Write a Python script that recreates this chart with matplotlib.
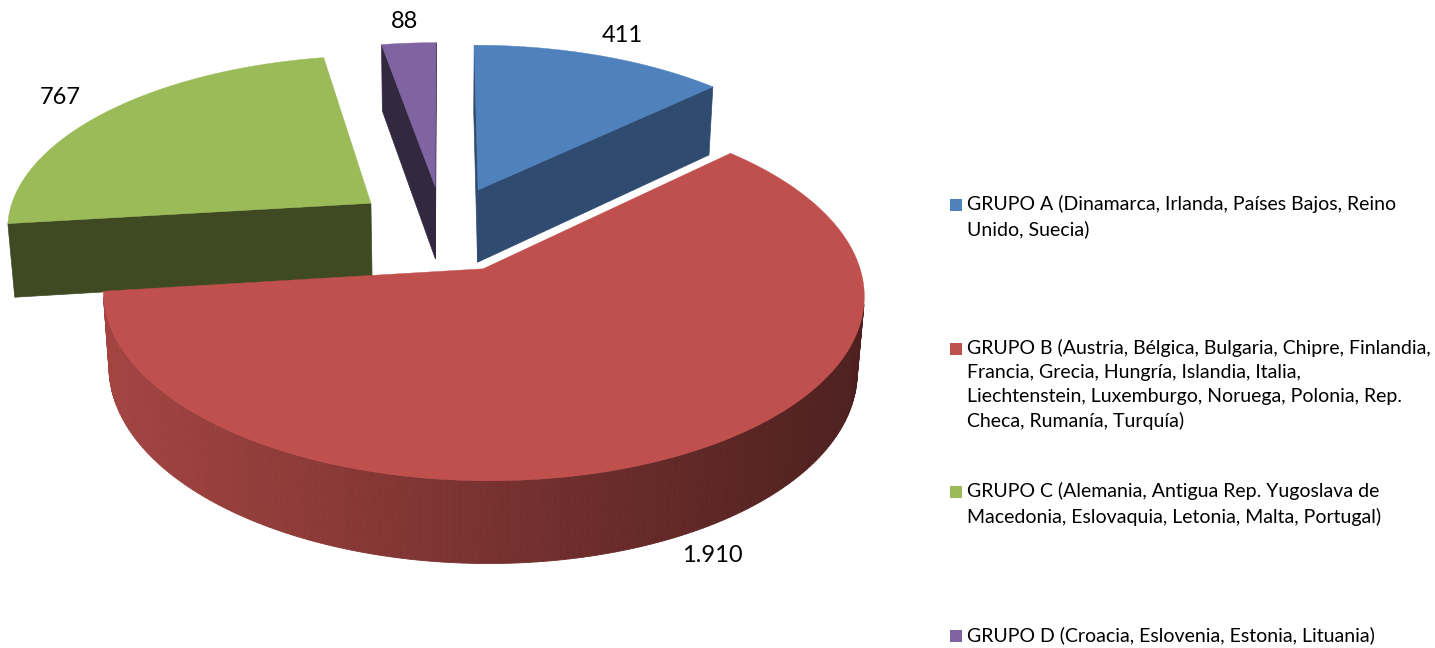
#
# 3D exploded pie chart : grupos de paises
#
import numpy as np
import matplotlib.pyplot as plt
from matplotlib.patches import Polygon, Rectangle
from matplotlib.colors import to_rgb
#
# --------------------------------------------------------------------- #
# Data
groups = ["GRUPO A (Dinamarca, Irlanda, Países Bajos, Reino\nUnido, Suecia)",
          "GRUPO B (Austria, Bélgica, Bulgaria, Chipre, Finlandia,\n"
          "Francia, Grecia, Hungría, Islandia, Italia,\n"
          "Liechtenstein, Luxemburgo, Noruega, Polonia, Rep.\n"
          "Checa, Rumanía, Turquía)",
          "GRUPO C (Alemania, Antigua Rep. Yugoslava de\n"
          "Macedonia, Eslovaquia, Letonia, Malta, Portugal)",
          "GRUPO D (Croacia, Eslovenia, Estonia, Lituania)"]
values = [411, 1910, 767, 88]
value_labels = ["411", "1.910", "767", "88"]
top_colors = ["#4F81BD", "#C0504D", "#9BBB59", "#8064A2"]
cut_colors = ["#2F4B70", "#5A2322", "#3F4A23", "#322840"]
#
# --------------------------------------------------------------------- #
# Fake 3D camera (pixel space)
F, D = 2481.0, 6.78
phi = np.radians(28.2)
s, c = np.sin(phi), np.cos(phi)
h = 0.2326           # thickness
explode = 0.25
cx, cy = 443.0, 228.5
cam = np.array([0.0, -D * c, D * s])


def proj(X, Y, Z):
    depth = D + Y * c - Z * s
    return cx + F * X / depth, cy - F * (Y * s + Z * c) / depth


def shade(col, k):
    return tuple(np.clip(np.array(to_rgb(col)) * k, 0, 1))


fig = plt.figure(figsize=(14.35, 6.48), dpi=100)
ax = fig.add_axes([0, 0, 1, 1])
ax.set_xlim(0, 1435)
ax.set_ylim(648, 0)
ax.axis("off")
#
total = float(sum(values))
fracs = np.array(values) / total
hi_angles = 90 - 360 * np.concatenate([[0], np.cumsum(fracs)[:-1]])
lo_angles = hi_angles - 360 * fracs
mids = np.radians((hi_angles + lo_angles) / 2)
centers = [(explode * np.cos(m), explode * np.sin(m)) for m in mids]
#
# draw far slices first
order = np.argsort([-ctr[1] for ctr in centers])
font = ["Lato", "DejaVu Sans"]
#
for i in order:
    ox, oy = centers[i]
    th = np.radians(np.linspace(lo_angles[i], hi_angles[i], 240))
    rx, ry = ox + np.cos(th), oy + np.sin(th)
    # cut faces
    for ang, sgn in [(lo_angles[i], -1), (hi_angles[i], 1)]:
        a = np.radians(ang)
        n = np.array([np.cos(a + sgn * np.pi / 2), np.sin(a + sgn * np.pi / 2), 0])
        if np.dot(n, cam - np.array([ox, oy, 0])) > 0:
            ex, ey = ox + np.cos(a), oy + np.sin(a)
            pts = [proj(ox, oy, 0), proj(ex, ey, 0), proj(ex, ey, -h), proj(ox, oy, -h)]
            ax.add_patch(Polygon(pts, closed=True, fc=cut_colors[i],
                                 ec=cut_colors[i], lw=0.5))
    # outer wall, strip by strip
    for k in range(len(th) - 1):
        tm = (th[k] + th[k + 1]) / 2
        n = np.array([np.cos(tm), np.sin(tm), 0])
        p = np.array([ox + np.cos(tm), oy + np.sin(tm), 0])
        if np.dot(n, cam - p) <= 0:
            continue
        x0, y0 = proj(rx[k], ry[k], 0)
        x1, y1 = proj(rx[k + 1], ry[k + 1], 0)
        x2, y2 = proj(rx[k + 1], ry[k + 1], -h)
        x3, y3 = proj(rx[k], ry[k], -h)
        t = np.clip((x0 - 105) / (862 - 105), 0, 1)
        col = shade(top_colors[i], 0.85 - 0.45 * t)
        ax.add_patch(Polygon([(x0, y0), (x1, y1), (x2, y2), (x3, y3)],
                             closed=True, fc=col, ec=col, lw=0.6))
    # top face
    tx, ty = proj(np.concatenate([[ox], rx]), np.concatenate([[oy], ry]), 0)
    ax.add_patch(Polygon(np.column_stack([tx, ty]), closed=True,
                         fc=top_colors[i], ec=top_colors[i], lw=0.3))
#
# value labels
for i in range(len(values)):
    ox, oy = centers[i]
    r = 1.2
    lx, ly = ox + r * np.cos(mids[i]), oy + r * np.sin(mids[i])
    z = -0.6 * h if np.sin(mids[i]) < 0 else 0
    px, py = proj(lx, ly, z)
    ax.text(px, py + 3, value_labels[i], ha="center", va="center",
            fontsize=17, family=font, color="black")
#
# legend
for i in range(len(groups)):
    ty = 195 + i * 143.7
    ax.add_patch(Rectangle((950, ty + 4), 12, 12, fc=top_colors[i], ec="none"))
    ax.text(967, ty, groups[i], ha="left", va="top", fontsize=14,
            family=font, linespacing=1.5, color="black")
#
fig.savefig("out.png", dpi=100)
